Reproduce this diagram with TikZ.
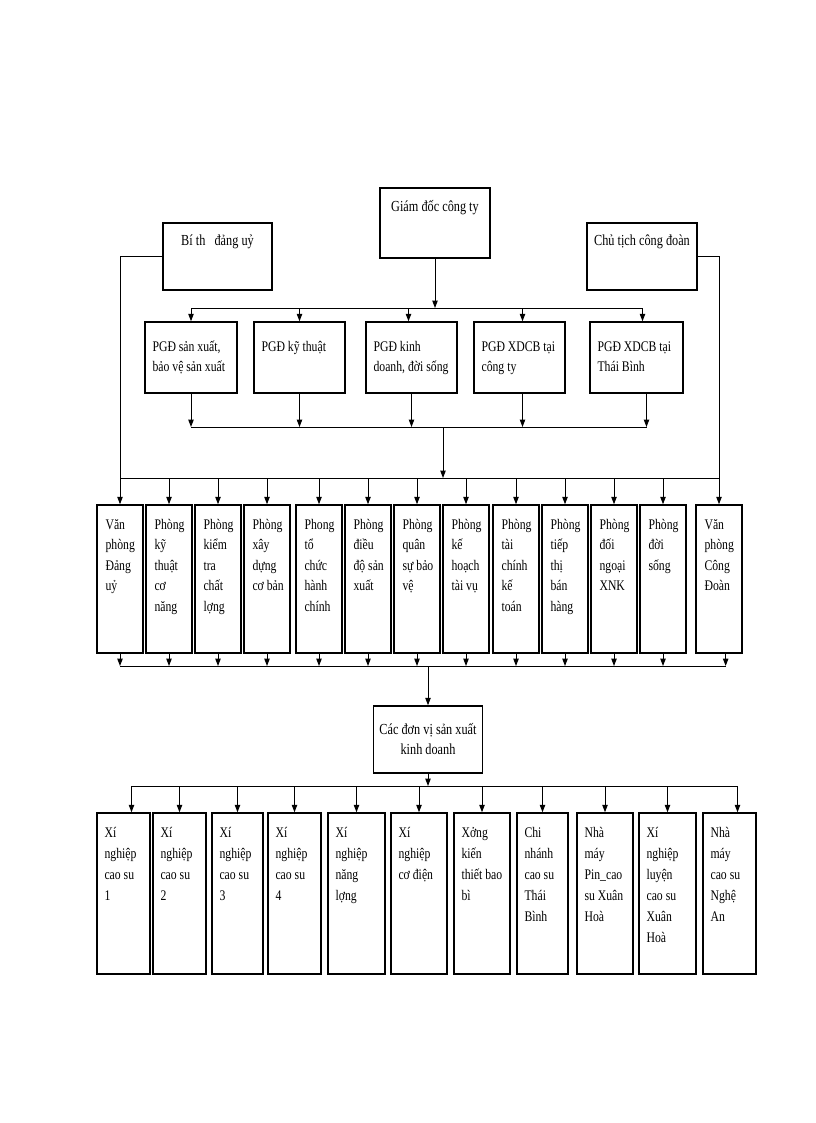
\documentclass[tikz,border=0pt]{standalone}
\usepackage{fontspec}
\setmainfont[FakeStretch=0.8]{Liberation Serif}
\usetikzlibrary{arrows.meta}

\newcommand{\boxlines}[1]{\begin{tabular}[t]{@{}l@{}}#1\end{tabular}}

\begin{document}
\begin{tikzpicture}[x=0.75pt,y=-0.75pt,
  box/.style={draw,line width=1.1pt,inner sep=0pt},
  txt/.style={anchor=base west,inner sep=0pt,font=\fontsize{11}{15.4}\selectfont},
  head/.style={anchor=base,inner sep=0pt,font=\fontsize{11.5}{15.4}\selectfont},
  line/.style={line width=0.75pt},
  arr/.style={line,-{Triangle[length=5.5pt,width=4pt]}}]

\fill[white] (0,0) rectangle (816,1123);

% ban lanh dao
\node[box,minimum width=82.5pt,minimum height=52.5pt] (gd) at (435,223) {};
\node[head] at ([yshift=-18pt]gd.north) {Giám đốc công ty};
\node[box,minimum width=81.75pt,minimum height=50.25pt] (bt) at (217.5,256.5) {};
\node[head] at ([yshift=-17.25pt]bt.north) {Bí th\ \ \ đảng uỷ};
\node[box,minimum width=82.5pt,minimum height=50.25pt] (ct) at (642,256.5) {};
\node[head] at ([yshift=-17.25pt]ct.north) {Chủ tịch công đoàn};

% pho giam doc
\foreach \n/\l/\r/\t in {g1/145/237/{PGĐ sản xuất,\\bảo vệ sản xuất},
  g2/254/345/{PGĐ kỹ thuật}, g3/366/457/{PGĐ kinh\\doanh, đời sống},
  g4/474/565/{PGĐ XDCB tại\\công ty}, g5/590/683/{PGĐ XDCB tại\\Thái Bình}}{
  \node[box,minimum width={(\r-\l)*0.75pt},minimum height=53.25pt] (\n) at ({(\l+\r)/2},357.5) {};
  \node[txt,font=\fontsize{11}{15}\selectfont] at ([shift={(8,30)}]\n.north west) {\boxlines{\t}};
}

% cac phong ban
\foreach \n/\l/\t in {v1/97/{Văn\\phòng\\Đảng\\uỷ}, v2/146/{Phòng\\kỹ\\thuật\\cơ\\năng},
  v3/195/{Phòng\\kiểm\\tra\\chất\\lợng}, v4/244/{Phòng\\xây\\dựng\\cơ bản},
  v5/296/{Phong\\tổ\\chức\\hành\\chính}, v6/345/{Phòng\\điều\\độ sản\\xuất},
  v7/394/{Phòng\\quân\\sự bảo\\vệ}, v8/443/{Phòng\\kế\\hoạch\\tài vụ},
  v9/493/{Phòng\\tài\\chính\\kế\\toán}, v10/542/{Phòng\\tiếp\\thị\\bán\\hàng},
  v11/591/{Phòng\\đối\\ngoại\\XNK}, v12/640/{Phòng\\đời\\sống},
  v13/696/{Văn\\phòng\\Công\\Đoàn}}{
  \node[box,minimum width=34.5pt,minimum height=111pt] (\n) at (\l+23,579) {};
  \node[txt] at ([shift={(9,25)}]\n.north west) {\boxlines{\t}};
}

\node[box,minimum width=81.75pt,minimum height=50.25pt,align=center,
  font=\fontsize{11.5}{15}\selectfont] (dv) at (428,739.5) {Các đơn vị sản xuất\\kinh doanh};

% don vi san xuat
\foreach \n/\l/\r/\t in {x1/97/150/{Xí\\nghiệp\\cao su\\1}, x2/153/206/{Xí\\nghiệp\\cao su\\2},
  x3/212/263/{Xí\\nghiệp\\cao su\\3}, x4/268/321/{Xí\\nghiệp\\cao su\\4},
  x5/328/385/{Xí\\nghiệp\\năng\\lợng}, x6/391/447/{Xí\\nghiệp\\cơ điện},
  x7/454/510/{Xởng\\kiến\\thiết bao\\bì}, x8/517/568/{Chi\\nhánh\\cao su\\Thái\\Bình},
  x9/577/633/{Nhà\\máy\\Pin\_cao\\su Xuân\\Hoà}, x10/639/696/{Xí\\nghiệp\\luyện\\cao su\\Xuân\\Hoà},
  x11/703/756/{Nhà\\máy\\cao su\\Nghệ\\An}}{
  \node[box,minimum width={(\r-\l)*0.75pt},minimum height=120.75pt] (\n) at ({(\l+\r)/2},893.5) {};
  \node[txt,font=\fontsize{11}{15.75}\selectfont] at ([shift={(8,25)}]\n.north west) {\boxlines{\t}};
}

% giam doc -> pho giam doc
\coordinate (b1) at (436,308);
\draw[arr] (gd.south) -- (gd.south |- b1);
\draw[line] (g1.north |- b1) -- ([xshift=4.5pt]g5.north |- b1);
\foreach \n/\dx in {g1/0,g2/0,g3/-3,g4/3,g5/6}
  \draw[arr] ([xshift=\dx*0.75pt]\n.north |- b1) -- ([xshift=\dx*0.75pt]\n.north);

% pho giam doc -> phong ban
\coordinate (b2) at (443,427);
\foreach \n/\dx in {g1/0,g2/0,g3/0,g4/3,g5/10}
  \draw[arr] ([xshift=\dx*0.75pt]\n.south) -- ([xshift=\dx*0.75pt]\n.south |- b2);
\draw[line] (g1.south |- b2) -- ([xshift=7.5pt]g5.south |- b2);
\coordinate (b3) at (443,478);
\draw[arr] (b2) -- (b3);
\draw[line] (v1.north |- b3) -- (v13.north |- b3);
\draw[arr] (bt.west) -| (v1.north);
\draw[arr] (ct.east) -| (v13.north);
\foreach \i in {2,...,12} \draw[arr] (v\i.north |- b3) -- (v\i.north);

% phong ban -> don vi
\coordinate (b4) at (430,666);
\foreach \i in {1,...,12} \draw[arr] (v\i.south) -- (v\i.south |- b4);
\draw[arr] ([xshift=5pt]v13.south) -- ([xshift=5pt]v13.south |- b4);
\draw[line] (v1.south |- b4) -- ([xshift=5pt]v13.south |- b4);
\draw[arr] (dv.north |- b4) -- (dv.north);

\coordinate (b5) at (430,786);
\draw[arr] (dv.south) -- (dv.south |- b5);
\draw[line] ([xshift=6pt]x1.north |- b5) -- ([xshift=6pt]x11.north |- b5);
\foreach \i in {2,...,10} \draw[arr] (x\i.north |- b5) -- (x\i.north);
\foreach \i in {1,11} \draw[arr] ([xshift=6pt]x\i.north |- b5) -- ([xshift=6pt]x\i.north);

\end{tikzpicture}
\end{document}
